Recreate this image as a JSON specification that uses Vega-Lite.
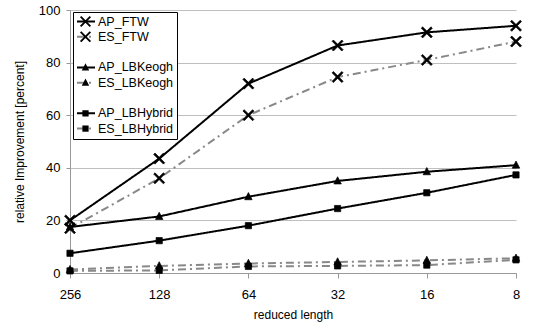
{
  "$schema": "https://vega.github.io/schema/vega-lite/v6.json",
  "width": 446,
  "height": 263,
  "autosize": {"type": "none"},
  "padding": {"left": 70, "top": 10, "right": 17, "bottom": 56},
  "background": "white",
  "config": {
    "view": {"stroke": null},
    "font": "Liberation Sans"
  },
  "data": {
    "values": [
      {"series": "AP_FTW", "len": "256", "value": 20},
      {"series": "AP_FTW", "len": "128", "value": 43.5},
      {"series": "AP_FTW", "len": "64", "value": 72},
      {"series": "AP_FTW", "len": "32", "value": 86.5},
      {"series": "AP_FTW", "len": "16", "value": 91.5},
      {"series": "AP_FTW", "len": "8", "value": 94},
      {"series": "ES_FTW", "len": "256", "value": 17},
      {"series": "ES_FTW", "len": "128", "value": 36},
      {"series": "ES_FTW", "len": "64", "value": 60},
      {"series": "ES_FTW", "len": "32", "value": 74.5},
      {"series": "ES_FTW", "len": "16", "value": 81},
      {"series": "ES_FTW", "len": "8", "value": 88},
      {"series": "AP_LBKeogh", "len": "256", "value": 17.5},
      {"series": "AP_LBKeogh", "len": "128", "value": 21.5},
      {"series": "AP_LBKeogh", "len": "64", "value": 29},
      {"series": "AP_LBKeogh", "len": "32", "value": 35},
      {"series": "AP_LBKeogh", "len": "16", "value": 38.5},
      {"series": "AP_LBKeogh", "len": "8", "value": 41},
      {"series": "ES_LBKeogh", "len": "256", "value": 1.3},
      {"series": "ES_LBKeogh", "len": "128", "value": 2.7},
      {"series": "ES_LBKeogh", "len": "64", "value": 3.6},
      {"series": "ES_LBKeogh", "len": "32", "value": 4.2},
      {"series": "ES_LBKeogh", "len": "16", "value": 4.8},
      {"series": "ES_LBKeogh", "len": "8", "value": 5.6},
      {"series": "AP_LBHybrid", "len": "256", "value": 7.5},
      {"series": "AP_LBHybrid", "len": "128", "value": 12.3},
      {"series": "AP_LBHybrid", "len": "64", "value": 18},
      {"series": "AP_LBHybrid", "len": "32", "value": 24.5},
      {"series": "AP_LBHybrid", "len": "16", "value": 30.5},
      {"series": "AP_LBHybrid", "len": "8", "value": 37.3},
      {"series": "ES_LBHybrid", "len": "256", "value": 0.8},
      {"series": "ES_LBHybrid", "len": "128", "value": 1.0},
      {"series": "ES_LBHybrid", "len": "64", "value": 2.5},
      {"series": "ES_LBHybrid", "len": "32", "value": 2.7},
      {"series": "ES_LBHybrid", "len": "16", "value": 3.0},
      {"series": "ES_LBHybrid", "len": "8", "value": 5.0}
    ]
  },
  "encoding": {
    "x": {
      "field": "len",
      "type": "ordinal",
      "scale": {"type": "point", "padding": 0, "domain": ["256", "128", "64", "32", "16", "8"]},
      "axis": {
        "title": "reduced length",
        "titleFont": "Liberation Sans",
        "titleFontSize": 12,
        "titleFontWeight": "normal",
        "titleColor": "black",
        "titlePadding": 8,
        "labelAngle": 0,
        "labelFontSize": 13,
        "labelColor": "black",
        "labelPadding": 10,
        "domainColor": "#999999",
        "tickColor": "#999999",
        "tickSize": 5,
        "grid": false
      }
    },
    "y": {
      "field": "value",
      "type": "quantitative",
      "scale": {"domain": [0, 100], "nice": false},
      "axis": {
        "title": "relative Improvement [percent]",
        "titleFont": "Liberation Sans",
        "titleFontSize": 12,
        "titleFontWeight": "normal",
        "titleColor": "black",
        "titlePadding": 12,
        "values": [0, 20, 40, 60, 80, 100],
        "labelFontSize": 13,
        "labelColor": "black",
        "labelPadding": 6,
        "domainColor": "#999999",
        "tickColor": "#999999",
        "tickSize": 4,
        "gridColor": "#bfbfbf",
        "gridWidth": 1
      }
    }
  },
  "layer": [
    {
      "mark": {"type": "line", "strokeWidth": 2},
      "encoding": {
        "stroke": {
          "field": "series",
          "type": "nominal",
          "scale": {
            "domain": ["AP_FTW", "ES_FTW", " ", "AP_LBKeogh", "ES_LBKeogh", "  ", "AP_LBHybrid", "ES_LBHybrid"],
            "range": ["black", "#888888", "transparent", "black", "#888888", "transparent", "black", "#888888"]
          },
          "legend": {
            "orient": "none", "legendX": 3, "legendY": 2, "title": null, "zindex": 0,
            "strokeColor": "black", "fillColor": "white", "padding": 2,
            "symbolType": "M-1.5,0L1.5,0", "symbolSize": 144, "symbolStrokeWidth": 2,
            "labelColor": "transparent", "labelFontSize": 12.5, "labelFont": "Liberation Sans",
            "labelOffset": 6, "rowPadding": 0.3, "symbolOffset": 4, "clipHeight": 15
          }
        },
        "strokeDash": {
          "field": "series",
          "type": "nominal",
          "scale": {
            "domain": ["AP_FTW", "ES_FTW", " ", "AP_LBKeogh", "ES_LBKeogh", "  ", "AP_LBHybrid", "ES_LBHybrid"],
            "range": [[1, 0], [8, 4, 2, 4], [1, 0], [1, 0], [8, 4, 2, 4], [1, 0], [1, 0], [8, 4, 2, 4]]
          },
          "legend": {
            "orient": "none", "legendX": 3, "legendY": 2, "title": null, "zindex": 0,
            "strokeColor": "black", "fillColor": "white", "padding": 2,
            "symbolType": "M-1.5,0L1.5,0", "symbolSize": 144, "symbolStrokeWidth": 2,
            "labelColor": "transparent", "labelFontSize": 12.5, "labelFont": "Liberation Sans",
            "labelOffset": 6, "rowPadding": 0.3, "symbolOffset": 4, "clipHeight": 15
          }
        }
      }
    },
    {
      "mark": {"type": "point", "filled": true, "color": "black", "stroke": "black", "strokeWidth": 0.7, "size": 144, "opacity": 1},
      "encoding": {
        "shape": {
          "field": "series",
          "type": "nominal",
          "scale": {
            "domain": ["AP_FTW", "ES_FTW", " ", "AP_LBKeogh", "ES_LBKeogh", "  ", "AP_LBHybrid", "ES_LBHybrid", "   "],
            "range": [
              "M-0.7,-0.92L0.92,0.7L0.7,0.92L-0.92,-0.7ZM-0.7,0.92L-0.92,0.7L0.7,-0.92L0.92,-0.7Z",
              "M-0.7,-0.92L0.92,0.7L0.7,0.92L-0.92,-0.7ZM-0.7,0.92L-0.92,0.7L0.7,-0.92L0.92,-0.7Z",
              "M0,0",
              "M0,-0.7L0.62,0.5L-0.62,0.5Z",
              "M0,-0.7L0.62,0.5L-0.62,0.5Z",
              "M0,0",
              "M-0.52,-0.52L0.52,-0.52L0.52,0.52L-0.52,0.52Z",
              "M-0.52,-0.52L0.52,-0.52L0.52,0.52L-0.52,0.52Z",
              "M0,0"
            ]
          },
          "legend": {
            "orient": "none", "legendX": 3, "legendY": 2, "title": null, "zindex": 1,
            "strokeColor": "transparent", "fillColor": "transparent", "padding": 2,
            "symbolSize": 144, "symbolStrokeWidth": 0.7,
            "symbolFillColor": "black", "symbolStrokeColor": "black",
            "labelColor": "black", "labelFontSize": 12.5, "labelFont": "Liberation Sans",
            "labelOffset": 6, "rowPadding": 0.3, "symbolOffset": 4, "clipHeight": 15,
            "encode": {
              "symbols": {
                "stroke": {"value": "black"},
                "fill": {"value": "black"},
                "strokeWidth": {"value": 0.7},
                "opacity": {"value": 1}
              }
            }
          }
        }
      }
    }
  ]
}
